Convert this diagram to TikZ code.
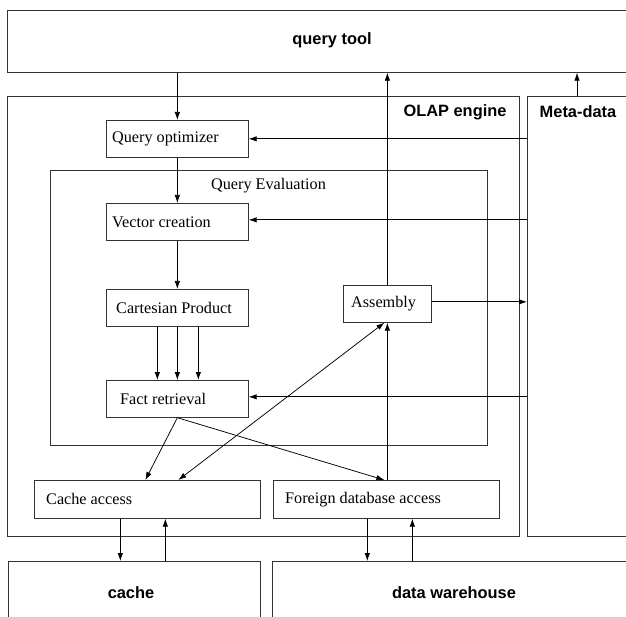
\documentclass[tikz,border=0pt]{standalone}
\usepackage{fontspec}
\setmainfont{Liberation Serif}
\newfontfamily\hv{Liberation Sans}
\usetikzlibrary{arrows.meta}
\begin{document}
\begin{tikzpicture}[x=1pt,y=-1pt,
  box/.style={draw=black!80, line width=0.7pt, inner sep=0pt, anchor=north west},
  lbl/.style={font=\fontsize{16.2}{19}\selectfont, anchor=west, inner sep=0pt},
  big/.style={font=\hv\bfseries\fontsize{16.4}{19}\selectfont, inner sep=0pt},
  arr/.style={-{Latex[length=8pt,width=5.5pt]}, line width=0.75pt},
  darr/.style={{Latex[length=8pt,width=5.5pt]}-{Latex[length=8pt,width=5.5pt]}, line width=0.75pt}]
\useasboundingbox (0,0) rectangle (626,617);
\clip (0,0) rectangle (626,617);
% outer boxes
\node[box, minimum width=650pt, minimum height=62pt] (qt) at (7,10) {};
\node[box, minimum width=512pt, minimum height=440pt] (olap) at (7,96) {};
\node[box, minimum width=120pt, minimum height=440pt] (md) at (527,96) {};
\node[box, minimum width=252pt, minimum height=70pt] (cache) at (8,561) {};
\node[box, minimum width=370pt, minimum height=70pt] (dw) at (272,561) {};
\node[box, minimum width=437pt, minimum height=275pt] (qe) at (50,170) {};
% inner boxes
\node[box, minimum width=142pt, minimum height=37pt] (qo) at (106,120) {};
\node[box, minimum width=142pt, minimum height=37pt] (vc) at (106,203) {};
\node[box, minimum width=142pt, minimum height=37pt] (cp) at (106,289) {};
\node[box, minimum width=142pt, minimum height=37pt] (fr) at (106,380) {};
\node[box, minimum width=88pt, minimum height=37pt] (as) at (343,285) {};
\node[box, minimum width=226pt, minimum height=38pt] (ca) at (34,480) {};
\node[box, minimum width=226pt, minimum height=38pt] (fda) at (273,480) {};
% labels
\node[big] (qtl) at (332,40) {query tool};
\node[big] (olapl) at (455,112) {OLAP engine};
\node[big] (mdl) at (578,112) {Meta-data};
\node[big] (cachel) at (131,593) {cache};
\node[big] (dwl) at (454,593) {data warehouse};
\node[lbl, anchor=center] (qel) at (268.5,186) {Query Evaluation};
\node[lbl] (qot) at ([xshift=6pt]qo.west) {Query optimizer};
\node[lbl] (vct) at ([xshift=6pt]vc.west) {Vector creation};
\node[lbl] (cpt) at ([xshift=10pt]cp.west) {Cartesian Product};
\node[lbl] (frt) at ([xshift=14pt]fr.west) {Fact retrieval};
\node[lbl] (ast) at ([xshift=8pt]as.west) {Assembly};
\node[lbl] (cat) at ([xshift=12pt]ca.west) {Cache access};
\node[lbl] (fdat) at ([xshift=12pt]fda.west) {Foreign database access};
% connectors
\draw[arr] (qo.north |- qt.south) -- (qo.north);
\draw[arr] (qo.south) -- (vc.north);
\draw[arr] (vc.south) -- (cp.north);
\draw[arr] ([xshift=-20pt]cp.south) -- ([xshift=-20pt]fr.north);
\draw[arr] (cp.south) -- (fr.north);
\draw[arr] ([xshift=21pt]cp.south) -- ([xshift=21pt]fr.north);
\draw[arr] (qo.east -| md.west) -- (qo.east);
\draw[arr] ([yshift=2pt]vc.east -| md.west) -- ([yshift=2pt]vc.east);
\draw[arr] ([yshift=2pt]fr.east -| md.west) -- ([yshift=2pt]fr.east);
\draw[arr] ([yshift=2pt]as.east) -- ([yshift=2pt]as.east -| md.west);
\draw[arr] (as.north) -- (as.north |- qt.south);
\draw[arr] (as.south |- fda.north) -- (as.south);
\draw[darr] ([xshift=31pt]ca.north) -- ([xshift=-3pt]as.south);
\draw[arr] (fr.south) -- ([xshift=-2pt]ca.north);
\draw[arr] (fr.south) -- ([xshift=-2pt]fda.north);
\draw[arr] ([xshift=-27pt]ca.south) -- ([xshift=-27pt]ca.south |- cache.north);
\draw[arr] ([xshift=18pt]ca.south |- cache.north) -- ([xshift=18pt]ca.south);
\draw[arr] ([xshift=-19pt]fda.south) -- ([xshift=-19pt]fda.south |- dw.north);
\draw[arr] ([xshift=26pt]fda.south |- dw.north) -- ([xshift=26pt]fda.south);
\draw[arr] (577,0 |- md.north) coordinate (mdq) -- (mdq |- qt.south);
\end{tikzpicture}
\end{document}
